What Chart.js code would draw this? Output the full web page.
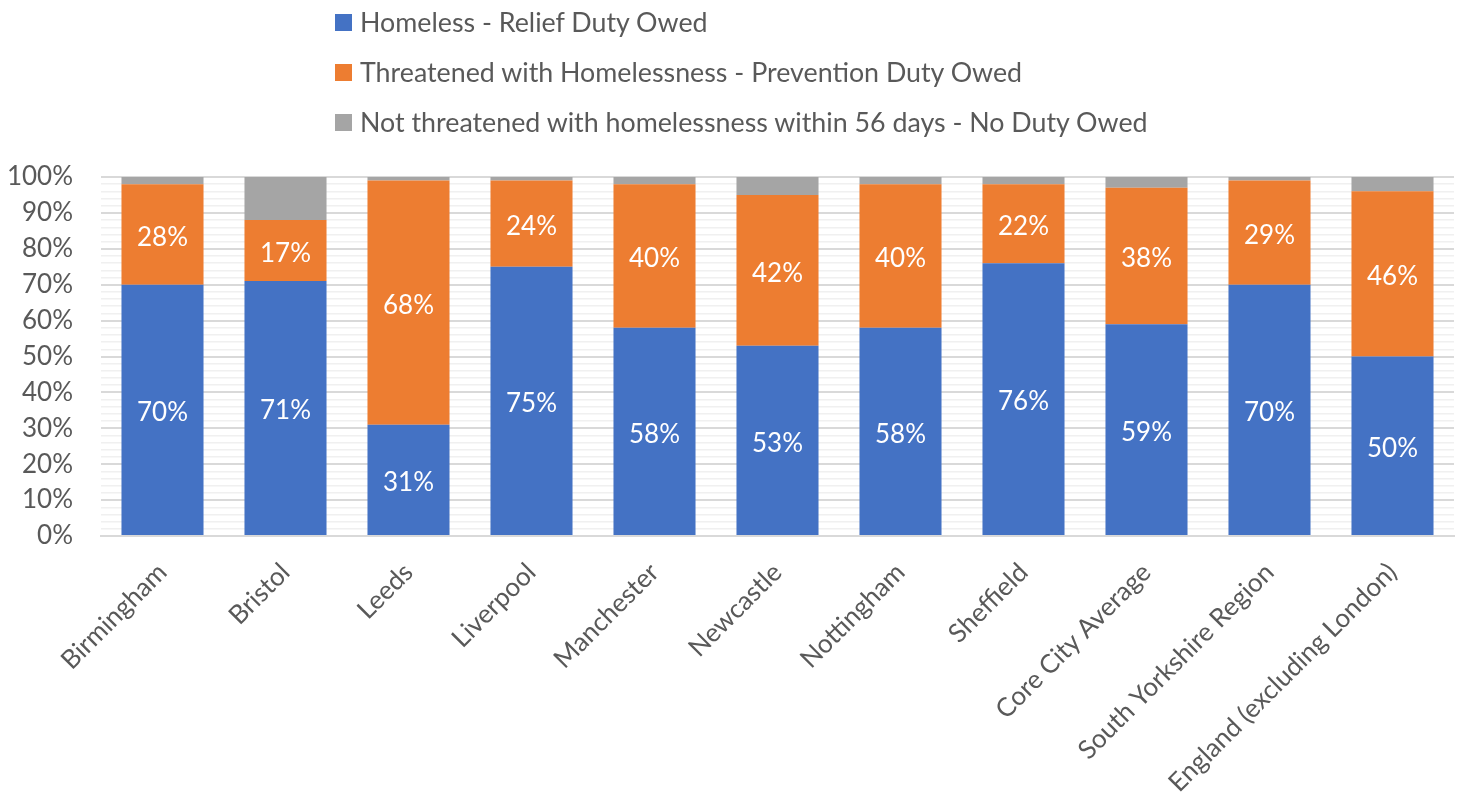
<!DOCTYPE html>
<html>
<head>
<meta charset="utf-8">
<script src="https://cdn.jsdelivr.net/npm/chart.js@4"></script>
<style>
    body { margin: 0; background: #fff; font-family: Lato, sans-serif; }
    #wrap { position: relative; width: 1459px; height: 801px; }
    #legend { position: absolute; left: 335px; top: -3px; }
    .item { display: flex; align-items: center; height: 50px; color: #595959; font-size: 26.8px; }
    .box { width: 17px; height: 17px; margin-right: 8px; }
</style>
</head>
<body>
<div id="wrap">
    <div id="legend"></div>
    <canvas id="dutyChart" width="1459" height="801"></canvas>
</div>
<script>
const categories = ['Birmingham', 'Bristol', 'Leeds', 'Liverpool', 'Manchester', 'Newcastle',
    'Nottingham', 'Sheffield', 'Core City Average', 'South Yorkshire Region', 'England (excluding London)'];
const reliefDuty = [70, 71, 31, 75, 58, 53, 58, 76, 59, 70, 50];
const preventionDuty = [28, 17, 68, 24, 40, 42, 40, 22, 38, 29, 46];
const noDuty = [2, 12, 1, 1, 2, 5, 2, 2, 3, 1, 4];

const seriesNames = [
    'Homeless - Relief Duty Owed',
    'Threatened with Homelessness - Prevention Duty Owed',
    'Not threatened with homelessness within 56 days - No Duty Owed'
];
const seriesColors = ['#4472c4', '#ed7d31', '#a5a5a5'];

const textColor = '#595959';
const font = { family: 'Lato, sans-serif', size: 26 };

// white % labels in the middle of the first two segments
const segmentLabels = {
    id: 'segmentLabels',
    afterDatasetsDraw(chart) {
        const ctx = chart.ctx;
        ctx.save();
        ctx.font = '26px Lato, sans-serif';
        ctx.fillStyle = '#ffffff';
        ctx.textAlign = 'center';
        ctx.textBaseline = 'middle';
        [0, 1].forEach(i => {
            const meta = chart.getDatasetMeta(i);
            meta.data.forEach((bar, j) => {
                const value = chart.data.datasets[i].data[j];
                ctx.fillText(value + '%', bar.x, (bar.y + bar.base) / 2 + 3);
            });
        });
        ctx.restore();
    }
};

// legend as a single column above the plot
const legendEl = document.getElementById('legend');
seriesNames.forEach((name, i) => {
    legendEl.innerHTML += `<div class="item"><div class="box" style="background:${seriesColors[i]}"></div>${name}</div>`;
});

new Chart(document.getElementById('dutyChart'), {
    type: 'bar',
    data: {
        labels: categories,
        datasets: [reliefDuty, preventionDuty, noDuty].map((d, i) => ({
            label: seriesNames[i],
            data: d,
            backgroundColor: seriesColors[i],
            barPercentage: 0.667,
            categoryPercentage: 1
        }))
    },
    options: {
        responsive: false,
        animation: false,
        layout: { padding: { top: 177, right: 5, left: 0, bottom: 0 } },
        plugins: {
            legend: { display: false },
            tooltip: { enabled: false }
        },
        scales: {
            x: {
                stacked: true,
                grid: { display: false },
                border: { color: '#d9d9d9', width: 2 },
                ticks: {
                    color: textColor,
                    font: font,
                    minRotation: 45,
                    maxRotation: 45,
                    padding: 13
                },
                afterFit(scale) {
                    scale.height = 265;
                    scale.paddingLeft = 0;
                    scale.paddingRight = 0;
                }
            },
            y: {
                stacked: true,
                min: 0,
                max: 100,
                border: { display: false },
                grid: {
                    color: c => c.tick && c.tick.value % 10 === 0 ? '#d9d9d9' : '#f0f0f0',
                    lineWidth: c => c.tick && c.tick.value % 10 === 0 ? 2 : 1.5,
                    drawTicks: false
                },
                ticks: {
                    stepSize: 2,
                    autoSkip: false,
                    color: textColor,
                    font: font,
                    padding: 28,
                    callback: v => v % 10 === 0 ? v + '%' : ''
                },
                afterFit(scale) {
                    scale.width = 101;
                }
            }
        }
    },
    plugins: [segmentLabels]
});
</script>
</body>
</html>
